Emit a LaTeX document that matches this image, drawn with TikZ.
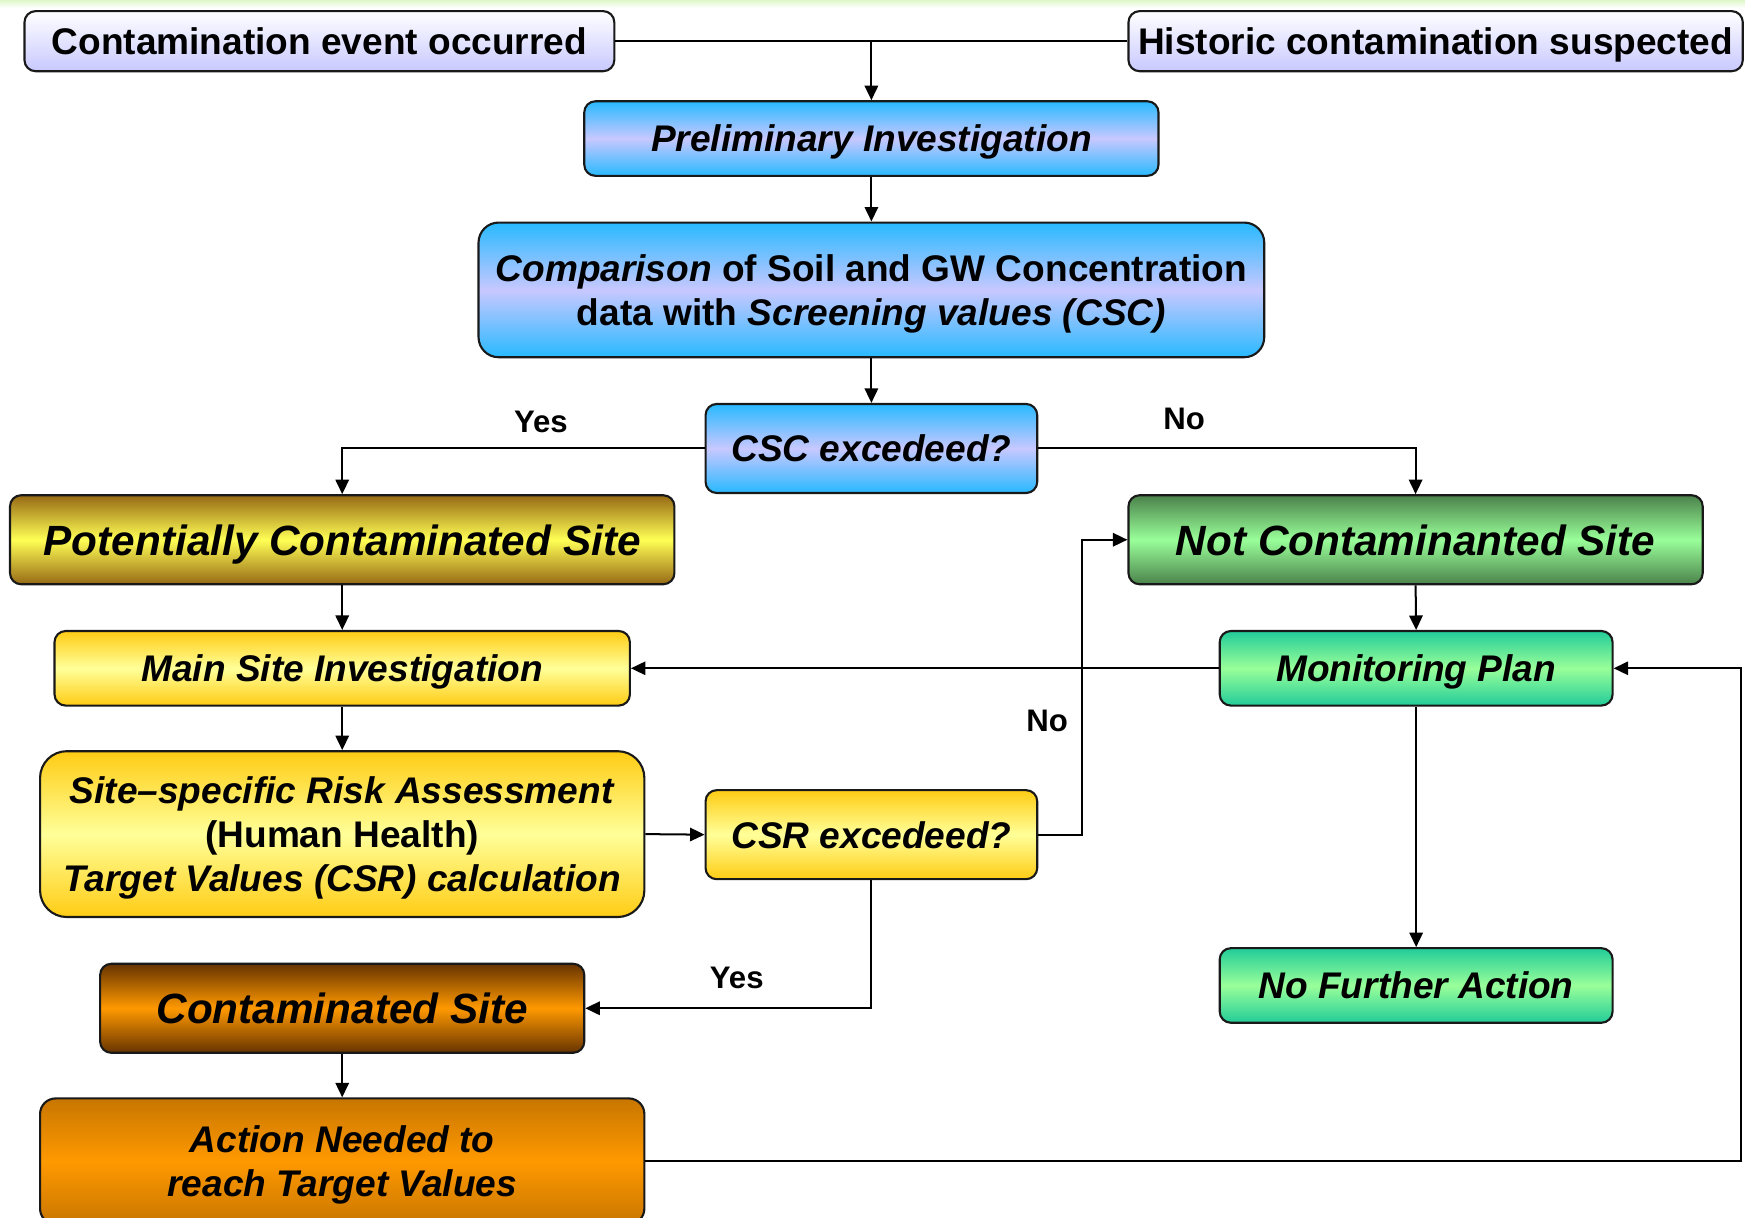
\documentclass[tikz,border=0pt]{standalone}
\usepackage{fontspec}
\setmainfont{Liberation Sans}
\usetikzlibrary{arrows.meta}
\definecolor{lav}{RGB}{200,200,255}
\definecolor{sky}{RGB}{40,185,255}
\definecolor{gold}{RGB}{150,105,20}
\definecolor{lemon}{RGB}{255,255,85}
\definecolor{dgreen}{RGB}{75,130,75}
\definecolor{lgreen}{RGB}{153,255,153}
\definecolor{yel}{RGB}{255,204,20}
\definecolor{pyel}{RGB}{255,255,153}
\definecolor{tealc}{RGB}{34,204,153}
\definecolor{brownc}{RGB}{102,51,0}
\definecolor{orng}{RGB}{255,153,0}
\definecolor{dorng}{RGB}{200,118,0}
\definecolor{topgreen}{RGB}{222,248,200}
\begin{document}
\begin{tikzpicture}[x=1pt,y=-1pt,
  box/.style={draw=black!90, line width=1.9pt, rounded corners=10pt, align=center, inner sep=0pt,
    text depth=0pt, font=\fontsize{33.3}{39.5}\selectfont\bfseries},
  bigtxt/.style={font=\fontsize{38}{44}\selectfont\bfseries\itshape},
  ital/.style={font=\fontsize{33.3}{39.5}\selectfont\bfseries\itshape},
  lavbox/.style={box, top color=white, bottom color=lav},
  bluebox/.style={box, top color=sky, bottom color=sky, middle color=lav},
  goldbox/.style={box, top color=gold, bottom color=gold, middle color=lemon},
  greenbox/.style={box, top color=dgreen, bottom color=dgreen, middle color=lgreen},
  yelbox/.style={box, top color=yel, bottom color=yel, middle color=pyel},
  tealbox/.style={box, top color=tealc, bottom color=tealc, middle color=lgreen},
  brbox/.style={box, top color=brownc, bottom color=brownc, middle color=orng},
  orbox/.style={box, top color=dorng, bottom color=dorng, middle color=orng},
  arr/.style={line width=1.8pt, -{Triangle[length=13pt,width=12pt]}},
  ln/.style={line width=1.8pt},
  lbl/.style={font=\fontsize{28}{32}\selectfont\bfseries, inner sep=0pt}
]
\useasboundingbox (0,0) rectangle (1568,1094);
\fill[white] (0,0) rectangle (1568,1094);
\shade[top color=topgreen, bottom color=white] (0,0) rectangle (1568,7);

\node[lavbox, minimum width=530, minimum height=54] (ceo) at (287,37) {Contamination event occurred};
\node[lavbox, minimum width=552, minimum height=54] (hcs) at (1290,37) {Historic contamination suspected};
\node[bluebox, ital, minimum width=516, minimum height=67] (prelim) at (783,124.5) {Preliminary Investigation};
\node[bluebox, rounded corners=18pt, minimum width=706, minimum height=121] (comp) at (783,260.5)
  {\textit{Comparison} of Soil and GW Concentration\\data with \textit{Screening values (CSC)}};
\node[bluebox, ital, minimum width=298, minimum height=80] (csc) at (783,403) {CSC excedeed?};
\node[goldbox, bigtxt, minimum width=597, minimum height=80] (pcs) at (307.5,485) {Potentially Contaminated Site};
\node[greenbox, bigtxt, minimum width=516, minimum height=80] (ncs) at (1272,485) {Not Contaminanted Site};
\node[yelbox, ital, minimum width=517, minimum height=67] (msi) at (307.5,600.5) {Main Site Investigation};
\node[tealbox, ital, minimum width=353, minimum height=67] (mp) at (1272.5,600.5) {Monitoring Plan};
\node[yelbox, rounded corners=24pt, minimum width=543, minimum height=149] (sra) at (307.5,749.5)
  {\textit{Site–specific Risk Assessment}\\(Human Health)\\\textit{Target Values (CSR) calculation}};
\node[yelbox, ital, minimum width=298, minimum height=80] (csr) at (783,750) {CSR excedeed?};
\node[tealbox, ital, minimum width=353, minimum height=67] (nfa) at (1272.5,885.5) {No Further Action};
\node[brbox, bigtxt, minimum width=435, minimum height=80] (cs) at (307.5,906) {Contaminated Site};
\node[orbox, ital, rounded corners=14pt, minimum width=543, minimum height=113] (anr) at (307.5,1043.5)
  {Action Needed to\\reach Target Values};

\coordinate (jr) at (972,750);
\coordinate (cr) at (1564,1042);

\draw[ln] (ceo.east) -- (hcs.west);
\draw[arr] (ceo.east -| prelim.north) -- (prelim.north);
\draw[arr] (prelim.south) -- (comp.north);
\draw[arr] (comp.south) -- (csc.north);
\draw[arr] (csc.west) -| (pcs.north);
\draw[arr] (csc.east) -| (ncs.north);
\draw[arr] (pcs.south) -- (msi.north);
\draw[arr] (ncs.south) -- (mp.north);
\draw[arr] (mp.west) -- (msi.east);
\draw[arr] (msi.south) -- (sra.north);
\draw[arr] (sra.east) -- (csr.west);
\draw[arr] (csr.east) -- (jr) |- (ncs.west);
\draw[arr] (csr.south) |- (cs.east);
\draw[arr] (cs.south) -- (anr.north);
\draw[arr] (anr.east) -- (anr.east -| cr) |- (mp.east);
\draw[arr] (mp.south) -- (nfa.north);

\node[lbl] (yes1) at (486,379) {Yes};
\node[lbl] (no1) at (1064,376) {No};
\node[lbl] (no2) at (941,648) {No};
\node[lbl] (yes2) at (662,879) {Yes};
\end{tikzpicture}
\end{document}
